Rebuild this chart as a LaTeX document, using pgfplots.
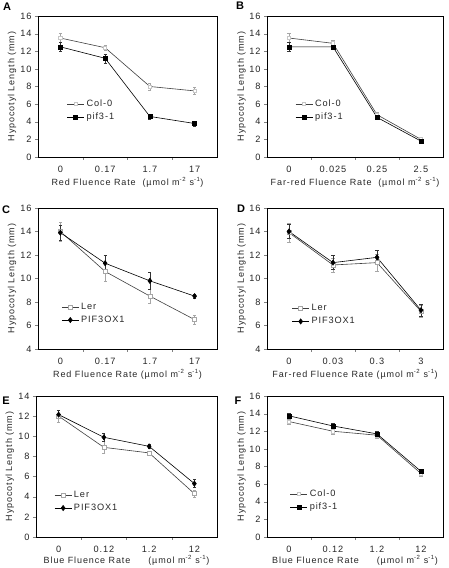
\documentclass[border=0pt]{standalone}
\usepackage{fontspec}
\setmainfont{Liberation Sans}
\newfontfamily\lsfont[LetterSpace=10]{Liberation Sans}
\usepackage{pgfplots}
\pgfplotsset{compat=1.18}
\pgfplotsset{
  panel/.style={
    scale only axis, width=#1, height=141pt,
    anchor=south west,
    xmin=-0.5, xmax=3.5,
    axis line style={line width=0.9pt},
    tick align=outside, xtick pos=bottom, ytick pos=left,
    major tick length=3pt,
    xtick={0.5,1.5,2.5}, xticklabels={},
    extra x tick style={major tick length=0pt},
    ticklabel style={font=\lsfont\fontsize{9.2}{10}\selectfont, text=black!85},
    /pgf/number format/assume math mode=true,
    xticklabel style={yshift=-6pt},
    label style={font=\lsfont\fontsize{9}{10}\selectfont, text=black!85},
    xlabel style={at={(axis description cs:0.5,-0.178)}, anchor=center},
    ylabel style={at={(axis description cs:-0.145,0.5)}, anchor=center},
    ylabel={Hypocotyl Length (mm)},
    legend style={draw=none, fill=none, font=\lsfont\fontsize{9.2}{10}\selectfont, text=black!85, inner sep=0pt, row sep=1pt, legend cell align=left},
  },
  wt/.style={line width=0.6pt, black!75, mark=square*, mark size=1.6pt, mark options={fill=white, draw=gray!45, solid},
    error bars/.cd, y dir=both, y explicit, error bar style={gray!70, line width=0.5pt}, error mark options={rotate=90, mark size=1.6pt, gray!70}},
  mutsq/.style={line width=0.6pt, black, mark=square*, mark size=2pt, mark options={fill=black, solid},
    error bars/.cd, y dir=both, y explicit, error bar style={black!80, line width=0.5pt}, error mark options={rotate=90, mark size=1.6pt, black!80}},
  ler/.style={line width=0.6pt, black!75, mark=square*, mark size=2pt, mark options={fill=white, draw=gray!70, solid},
    error bars/.cd, y dir=both, y explicit, error bar style={gray!70, line width=0.5pt}, error mark options={rotate=90, mark size=1.6pt, gray!70}},
  oxd/.style={line width=0.6pt, black, mark=diamond*, mark size=2.6pt, mark options={fill=black, solid},
    error bars/.cd, y dir=both, y explicit, error bar style={black!80, line width=0.5pt}, error mark options={rotate=90, mark size=1.6pt, black!80}},
}
\begin{document}
\begin{tikzpicture}[x=1pt,y=1pt]
\useasboundingbox (0,0) rectangle (448,568);
\def\um{(\textmu mol m\textsuperscript{-2} s\textsuperscript{-1})}

% Panel A
\begin{axis}[panel=179pt, at={(38pt,411pt)},
  ymin=0, ymax=16, ytick={0,2,...,16},
  extra x ticks={0,1,2,3}, extra x tick labels={0,0.17,1.7,17},
  xlabel={Red Fluence Rate\ \ \um},
  legend style={at={(rel axis cs:0.16,0.42)}, anchor=north west}]
\addplot[wt] coordinates {(0,13.5) +- (0,0.5) (1,12.4) +- (0,0.3) (2,8.0) +- (0,0.4) (3,7.5) +- (0,0.4)};
\addlegendentry{Col-0}
\addplot[mutsq] coordinates {(0,12.5) +- (0,0.5) (1,11.2) +- (0,0.5) (2,4.6) +- (0,0.3) (3,3.8) +- (0,0.3)};
\addlegendentry{pif3-1}
\end{axis}

% Panel B
\begin{axis}[panel=176pt, at={(267pt,411pt)},
  ymin=0, ymax=16, ytick={0,2,...,16},
  extra x ticks={0,1,2,3}, extra x tick labels={0,0.025,0.25,2.5},
  xlabel={Far-red Fluence Rate\ \ \um},
  legend style={at={(rel axis cs:0.16,0.42)}, anchor=north west}]
\addplot[wt] coordinates {(0,13.5) +- (0,0.5) (1,12.9) +- (0,0.4) (2,4.8) +- (0,0.3) (3,2.0) +- (0,0.1)};
\addlegendentry{Col-0}
\addplot[mutsq] coordinates {(0,12.5) +- (0,0.5) (1,12.5) +- (0,0.2) (2,4.5) +- (0,0.2) (3,1.8) +- (0,0.1)};
\addlegendentry{pif3-1}
\end{axis}

% Panel C
\begin{axis}[panel=179pt, at={(38pt,219pt)},
  ymin=4, ymax=16, ytick={4,6,...,16},
  extra x ticks={0,1,2,3}, extra x tick labels={0,0.17,1.7,17},
  xlabel={Red Fluence Rate \um},
  legend style={at={(rel axis cs:0.13,0.34)}, anchor=north west}]
\addplot[ler] coordinates {(0,14.0) +- (0,0.8) (1,10.6) +- (0,0.8) (2,8.5) +- (0,0.6) (3,6.5) +- (0,0.4)};
\addlegendentry{Ler}
\addplot[oxd] coordinates {(0,13.9) +- (0,0.6) (1,11.3) +- (0,0.7) (2,9.8) +- (0,0.7) (3,8.5) +- (0,0.2)};
\addlegendentry{PIF3OX1}
\end{axis}

% Panel D
\begin{axis}[panel=176pt, at={(267pt,219pt)},
  ymin=4, ymax=16, ytick={4,6,...,16},
  extra x ticks={0,1,2,3}, extra x tick labels={0,0.03,0.3,3},
  xlabel={Far-red Fluence Rate \um},
  legend style={at={(rel axis cs:0.14,0.33)}, anchor=north west}]
\addplot[ler] coordinates {(0,13.9) +- (0,0.8) (1,11.15) +- (0,0.6) (2,11.35) +- (0,0.7) (3,7.2) +- (0,0.5)};
\addlegendentry{Ler}
\addplot[oxd] coordinates {(0,14.0) +- (0,0.6) (1,11.35) +- (0,0.6) (2,11.8) +- (0,0.6) (3,7.3) +- (0,0.5)};
\addlegendentry{PIF3OX1}
\end{axis}

% Panel E
\begin{axis}[panel=181pt, at={(36pt,31pt)},
  ymin=0, ymax=14, ytick={0,2,...,14},
  extra x ticks={0,1,2,3}, extra x tick labels={0,0.12,1.2,12},
  xlabel={Blue Fluence Rate\hspace{18pt}\um},
  xlabel style={at={(axis description cs:0.5,-0.168)}},
  legend style={at={(rel axis cs:0.10,0.34)}, anchor=north west}]
\addplot[ler] coordinates {(0,12.0) +- (0,0.6) (1,8.9) +- (0,0.6) (2,8.35) +- (0,0.2) (3,4.3) +- (0,0.3)};
\addlegendentry{Ler}
\addplot[oxd] coordinates {(0,12.15) +- (0,0.4) (1,9.9) +- (0,0.4) (2,9.0) +- (0,0.2) (3,5.3) +- (0,0.4)};
\addlegendentry{PIF3OX1}
\end{axis}

% Panel F
\begin{axis}[panel=176pt, at={(267pt,31pt)},
  ymin=0, ymax=16, ytick={0,2,...,16},
  extra x ticks={0,1,2,3}, extra x tick labels={0,0.12,1.2,12},
  xlabel={Blue Fluence Rate\hspace{18pt}\um},
  xlabel style={at={(axis description cs:0.5,-0.168)}},
  legend style={at={(rel axis cs:0.13,0.35)}, anchor=north west}]
\addplot[wt] coordinates {(0,13.1) +- (0,0.3) (1,12.0) +- (0,0.3) (2,11.55) +- (0,0.3) (3,7.2) +- (0,0.3)};
\addlegendentry{Col-0}
\addplot[mutsq] coordinates {(0,13.75) +- (0,0.3) (1,12.6) +- (0,0.3) (2,11.7) +- (0,0.3) (3,7.45) +- (0,0.3)};
\addlegendentry{pif3-1}
\end{axis}

% panel letters
\begin{scope}[every node/.style={font=\fontsize{11}{12}\selectfont\bfseries, anchor=center}]
\node at (7,561) {A};
\node at (240,562) {B};
\node at (6,358) {C};
\node at (241,359) {D};
\node at (6,167) {E};
\node at (238,167) {F};
\end{scope}
\end{tikzpicture}
\end{document}
